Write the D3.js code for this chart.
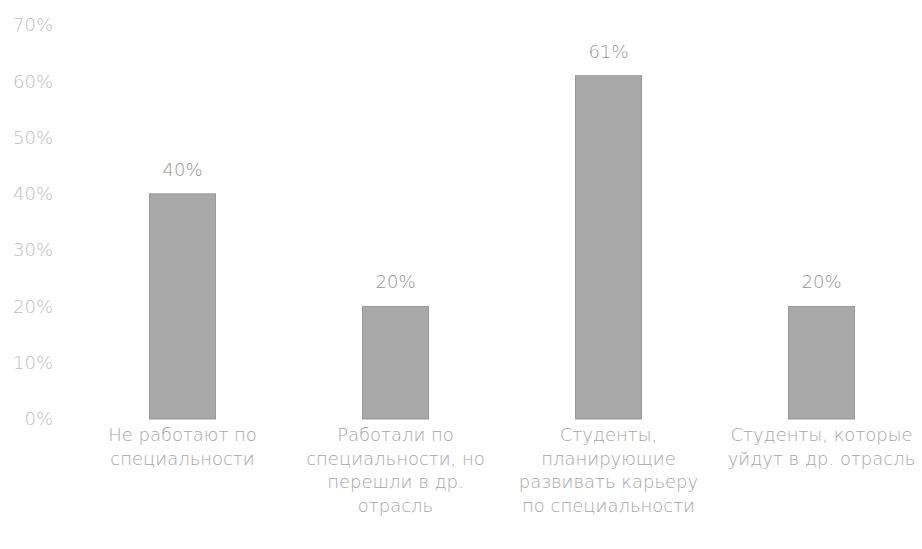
<!DOCTYPE html>
<html>
<head>
<meta charset="utf-8">
<script src="https://cdn.jsdelivr.net/npm/d3@7"></script>
<style>
  body { margin: 0; background: #fff; }
  svg { display: block; font-family: "DejaVu Sans", sans-serif; font-weight: 200; }
</style>
</head>
<body>
<div id="container"></div>
<script>
const categories = ["c1", "c2", "c3", "c4"];
const categoryLines = [
    ["Не работают по", "специальности"],
    ["Работали по", "специальности, но", "перешли в др.", "отрасль"],
    ["Студенты,", "планирующие", "развивать карьеру", "по специальности"],
    ["Студенты, которые", "уйдут в др. отрасль"]
];
const values = [0.40, 0.20, 0.61, 0.20];
const valueLabels = ["40%", "20%", "61%", "20%"];
const yTicks = [0, 0.1, 0.2, 0.3, 0.4, 0.5, 0.6, 0.7];

const width = 922, height = 549;

let x = d3.scaleBand()
    .domain(categories)
    .range([76, 928])
    .paddingInner(0.69)
    .paddingOuter(0.345);

let y = d3.scaleLinear()
    .domain([0, 0.7])
    .range([419, 25]);

let svg = d3.select("#container").append("svg")
    .attr("width", width)
    .attr("height", height);

// y axis, labels only
let yAxis = svg.append("g")
    .attr("transform", "translate(53,0)")
    .call(d3.axisLeft(y).tickValues(yTicks).tickSize(0).tickPadding(0)
        .tickFormat(d => Math.round(d * 100) + "%"));
yAxis.select(".domain").remove();
yAxis.selectAll("text")
    .attr("fill", "#bdbdbd")
    .style("font-size", "18px")
    .style("font-family", "'DejaVu Sans', sans-serif")
    .style("font-weight", 200);

svg.selectAll(".bar")
    .data(values)
    .enter()
    .append("rect")
    .attr("class", "bar")
    .attr("x", (d, i) => x(categories[i]))
    .attr("y", d => y(d))
    .attr("width", x.bandwidth())
    .attr("height", d => y(0) - y(d))
    .attr("fill", "#a8a8a8")
    .attr("stroke", "#999")
    .attr("stroke-width", 1);

svg.selectAll(".val")
    .data(values)
    .enter()
    .append("text")
    .attr("class", "val")
    .attr("x", (d, i) => x(categories[i]) + x.bandwidth() / 2)
    .attr("y", d => y(d) - 18)
    .attr("text-anchor", "middle")
    .attr("fill", "#959595")
    .style("font-size", "18px")
    .text((d, i) => valueLabels[i]);

// category labels
categoryLines.forEach((lines, i) => {
    let t = svg.append("text")
        .attr("x", x(categories[i]) + x.bandwidth() / 2)
        .attr("y", 441)
        .attr("text-anchor", "middle")
        .attr("fill", "#a6a6a6")
        .style("font-size", "18px");
    lines.forEach((line, j) => {
        t.append("tspan")
            .attr("x", x(categories[i]) + x.bandwidth() / 2)
            .attr("dy", j == 0 ? 0 : 23.5)
            .text(line);
    });
});
</script>
</body>
</html>
